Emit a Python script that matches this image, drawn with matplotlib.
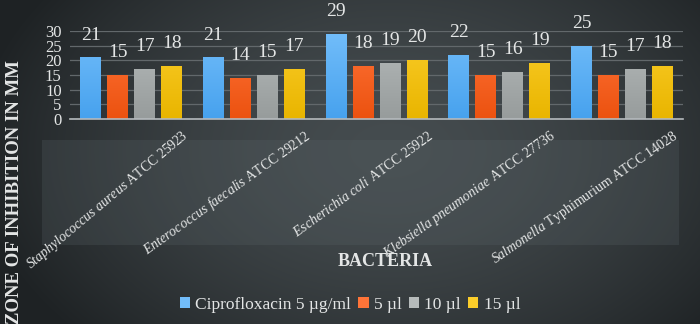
import numpy as np
import matplotlib
matplotlib.use("Agg")
import matplotlib.pyplot as plt
from matplotlib.colors import LinearSegmentedColormap
from matplotlib.patches import Rectangle, Patch

# data
species = ["Staphylococcus aureus", "Enterococcus faecalis", "Escherichia coli",
           "Klebsiella pneumoniae", "Salmonella"]
strains = ["ATCC 25923", "ATCC 29212", "ATCC 25922", "ATCC 27736", "Typhimurium ATCC 14028"]
series_names = ["Ciprofloxacin 5 µg/ml", "5 µl", "10 µl", "15 µl"]
cipro = [21, 21, 29, 22, 25]
ul5 = [15, 14, 18, 15, 15]
ul10 = [17, 15, 19, 16, 17]
ul15 = [18, 17, 20, 19, 18]
series = [cipro, ul5, ul10, ul15]

# top / bottom colours of each bar gradient
bar_top = ["#72bdfa", "#ff7438", "#b6bbbb", "#fbcd2a"]
bar_bot = ["#47a2ee", "#ec5210", "#979c9c", "#e9b500"]
txt = "#e4e6e6"
serif = ["Liberation Serif", "DejaVu Serif"]
label_rot = [40, 35.5, 36, 35.5, 34.5]  # the source labels are not quite parallel

plt.rcParams["font.family"] = serif
plt.rcParams["mathtext.fontset"] = "custom"
plt.rcParams["mathtext.rm"] = "Liberation Serif"
plt.rcParams["mathtext.it"] = "Liberation Serif:italic"

fig = plt.figure(figsize=(7, 3.24), dpi=100)

# background gradient
bg = fig.add_axes([0, 0, 1, 1], zorder=-10)
yy, xx = np.mgrid[0:324, 0:700]
r = np.sqrt(((xx - 390) / 420.0) ** 2 + ((yy - 150) / 280.0) ** 2)
r = np.clip(r, 0, 1)
c_in = np.array([0x45, 0x4c, 0x4f]) / 255.0
c_out = np.array([0x1e, 0x22, 0x24]) / 255.0
img = c_in[None, None, :] * (1 - r[..., None] ** 1.6) + c_out[None, None, :] * (r[..., None] ** 1.6)
bg.imshow(img, aspect="auto", extent=[0, 1, 0, 1])
bg.set_xlim(0, 1)
bg.set_ylim(0, 1)
bg.axis("off")
bg.add_patch(Rectangle((42 / 700, 1 - 245 / 324), 637 / 700, 105 / 324,
                       facecolor="#5a6468", alpha=0.25, edgecolor="none"))

ax = fig.add_axes([0.1, 0.633, 0.876, 0.271])
ax.patch.set_alpha(0)

x = np.arange(len(species))
width = 0.17
step = 0.22
offsets = [-1.5 * step, -0.5 * step, 0.5 * step, 1.5 * step]

for k, vals in enumerate(series):
    bars = ax.bar(x + offsets[k], vals, width, color=bar_bot[k], zorder=3)
    cmap = LinearSegmentedColormap.from_list("g%d" % k, [bar_bot[k], bar_top[k]])
    grad = np.linspace(0, 1, 64).reshape(-1, 1)
    for b, v in zip(bars, vals):
        im = ax.imshow(grad, cmap=cmap, origin="lower", aspect="auto",
                       extent=[b.get_x(), b.get_x() + b.get_width(), 0, 30], zorder=4)
        im.set_clip_path(b)
        ax.annotate(str(v), (b.get_x() + b.get_width() / 2, v), xytext=(0, 10),
                    textcoords="offset points", ha="center", va="bottom",
                    fontsize=14, color=txt, annotation_clip=False)

ax.set_xlim(-0.5, len(species) - 0.5)
ax.set_ylim(0, 30)
ax.set_yticks(range(0, 31, 5))
ax.tick_params(axis="y", length=0, labelsize=12, labelcolor=txt, pad=6)
ax.set_xticks([])
ax.grid(axis="y", color="#62686b", lw=0.9, zorder=0)
for s in ["top", "right", "left"]:
    ax.spines[s].set_visible(False)
ax.spines["bottom"].set_color("#b5babd")
ax.spines["bottom"].set_linewidth(1.2)
ax.spines["bottom"].set_zorder(5)

for i in range(len(species)):
    name = r"$\mathit{%s}$ %s" % (species[i].replace(" ", r"\ "), strains[i])
    ax.annotate(name, xy=(i + 0.45, 0), xycoords=("data", "axes fraction"),
                xytext=(0, -11), textcoords="offset points", rotation=label_rot[i],
                rotation_mode="anchor", ha="right", va="center",
                fontsize=10, color=txt)

fig.text(0.55, 1 - 261 / 324, "BACTERIA", ha="center", va="center",
         fontsize=13, fontweight="bold", color=txt)
fig.text(0.021, 1 - 192 / 324, "ZONE OF INHIBITION IN MM", ha="center", va="center",
         rotation=90, fontsize=13.5, fontweight="bold", color=txt)

handles = [Patch(facecolor=bar_top[k], edgecolor="none") for k in range(4)]
leg = fig.legend(handles, series_names, loc="center", bbox_to_anchor=(0.5, 1 - 305 / 324),
                 ncol=4, frameon=False, prop={"family": serif, "size": 12.5},
                 handlelength=0.6, handleheight=0.6,
                 handletextpad=0.3, columnspacing=0.4, labelcolor=txt)

fig.savefig("out.png", dpi=100)
